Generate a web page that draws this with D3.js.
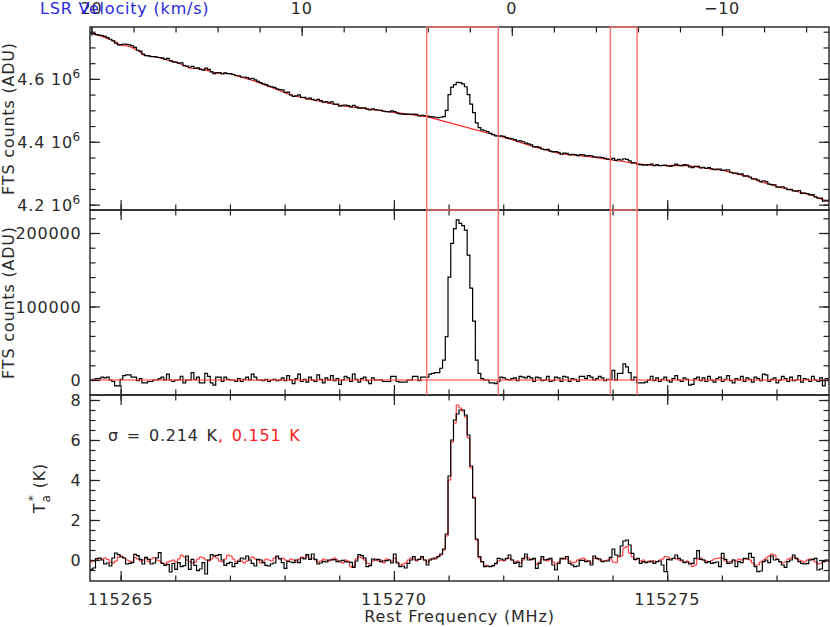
<!DOCTYPE html>
<html><head><meta charset="utf-8">
<script src="https://cdn.jsdelivr.net/npm/d3@7"></script>
<style>
body{margin:0;background:#fff}
text{font-family:"DejaVu Sans",sans-serif;font-size:16px;letter-spacing:0.8px}
</style>
</head><body>
<svg id="c" width="830" height="627"></svg>
<script>
// ---------------- data ----------------
const chanStart = 115264.44;   // MHz, left edge of first channel
const chanWidth = 0.05;        // MHz

// Panel 1: raw FTS counts (units of 1e6 ADU)
const p1Counts = [
4.745,4.744,4.741,4.739,4.738,4.735,4.731,4.726,4.721,4.714,
4.708,4.709,4.711,4.710,4.708,4.705,4.700,4.691,4.688,4.679,
4.674,4.673,4.671,4.671,4.669,4.668,4.667,4.662,4.665,4.658,
4.654,4.653,4.650,4.651,4.642,4.641,4.637,4.640,4.634,4.635,
4.630,4.628,4.634,4.630,4.622,4.617,4.620,4.620,4.616,4.619,
4.617,4.616,4.614,4.610,4.610,4.606,4.606,4.604,4.600,4.602,
4.597,4.592,4.588,4.584,4.582,4.577,4.575,4.573,4.568,4.566,
4.565,4.557,4.558,4.549,4.544,4.546,4.549,4.541,4.541,4.536,
4.539,4.535,4.532,4.535,4.531,4.526,4.528,4.524,4.527,4.520,
4.520,4.513,4.516,4.517,4.515,4.511,4.516,4.511,4.507,4.508,
4.508,4.504,4.501,4.505,4.502,4.501,4.500,4.497,4.496,4.495,
4.498,4.496,4.491,4.489,4.488,4.487,4.488,4.487,4.488,4.487,
4.482,4.484,4.483,4.482,4.480,4.479,4.478,4.477,4.478,4.480,
4.500,4.550,4.574,4.582,4.589,4.588,4.584,4.575,4.550,4.520,
4.493,4.460,4.445,4.438,4.435,4.432,4.427,4.423,4.419,4.418,
4.419,4.417,4.413,4.411,4.409,4.407,4.402,4.403,4.400,4.396,
4.393,4.390,4.384,4.385,4.382,4.377,4.375,4.376,4.370,4.368,
4.369,4.366,4.361,4.364,4.363,4.358,4.360,4.359,4.356,4.359,
4.358,4.355,4.356,4.355,4.352,4.351,4.351,4.350,4.347,4.345,
4.344,4.347,4.341,4.344,4.342,4.346,4.344,4.339,4.333,4.333,
4.328,4.327,4.326,4.326,4.327,4.329,4.324,4.327,4.324,4.325,
4.326,4.323,4.322,4.325,4.329,4.325,4.324,4.327,4.326,4.320,
4.318,4.322,4.322,4.317,4.319,4.315,4.318,4.314,4.311,4.313,
4.313,4.309,4.310,4.311,4.303,4.300,4.300,4.297,4.298,4.291,
4.292,4.288,4.282,4.282,4.278,4.273,4.276,4.273,4.265,4.264,
4.263,4.256,4.256,4.257,4.253,4.248,4.249,4.244,4.243,4.245,
4.236,4.237,4.235,4.231,4.232,4.225,4.221,4.221,4.211,4.214,
4.211];

// Panel 1: baseline fit (red), knots
const baseFreq = [115264.44,115264.62,115264.90,115264.99,115265.17,115265.35,115265.41,115265.67,115265.85,115266.09,
115266.27,115266.45,115266.58,115266.76,115267.00,115267.18,115267.42,115267.68,115267.91,115268.10,
115268.52,115269.07,115269.62,115270.11,115270.60,115271.90,115272.18,115272.54,115273.04,115273.40,
115273.64,115273.95,115274.19,115274.45,115274.74,115274.99,115275.36,115275.60,115276.02,115276.46,
115276.69,115277.01,115277.30,115277.61,115277.79,115277.96];
const baseVal = [4.745,4.737,4.719,4.708,4.703,4.687,4.676,4.669,4.660,4.648,
4.634,4.632,4.627,4.618,4.617,4.607,4.595,4.578,4.563,4.549,
4.533,4.514,4.502,4.491,4.480,4.419,4.406,4.385,4.362,4.356,
4.351,4.343,4.337,4.330,4.325,4.324,4.325,4.318,4.309,4.290,
4.274,4.258,4.245,4.232,4.219,4.210];

// Panel 2: baseline-subtracted counts (units of 1e3 ADU)
const p2Counts = [
0,1,2,2,4,3,4,0,-2,-8,
-8,1,6,7,7,4,4,-1,2,-4,
-4,-2,-2,0,0,2,4,0,8,0,
-2,0,0,5,-4,0,0,10,1,4,
-4,-4,9,5,-4,-7,4,4,-2,4,
1,0,0,-2,2,-2,1,4,0,8,
4,0,0,-1,1,-2,0,1,-1,0,
3,-1,6,0,-5,2,8,-2,1,-3,
4,0,-2,7,1,-4,3,0,6,-1,
2,-6,0,5,3,-2,8,1,-3,2,
4,-1,-5,3,0,0,0,-2,-2,-2,
5,5,-2,-3,-3,-3,0,0,5,5,
-1,4,4,4,8,9,10,10,16,27,
59,140,186,206,218,213,210,204,170,125,
80,27,9,2,0,0,-4,-4,-5,-2,
4,3,1,0,2,3,-1,5,4,3,
5,3,-2,4,3,-1,0,5,-2,-1,
4,3,-2,5,4,-2,2,1,-2,5,
5,2,6,4,0,2,5,3,-1,1,
1,13,0,9,9,22,18,10,0,4,
-4,-4,-4,-3,0,5,-1,3,-2,1,
4,-1,-3,2,6,0,-2,3,1,-7,
-6,2,4,-1,3,-2,5,0,-3,2,
4,-2,1,6,-1,-4,2,0,5,-2,
3,1,-3,4,2,-1,8,7,-2,1,
3,-4,0,5,2,-2,4,-1,0,6,
-3,2,1,-2,5,0,-2,3,-8,2,
1];

// Panel 3: antenna temperature (K), black and red spectra
const p3Black = [
-0.47,-0.4,0.07,0.1,0.0,-0.2,-0.15,-0.3,0.1,0.35,
0.27,0.15,0.1,-0.2,-0.17,-0.13,0.28,0.22,0.03,-0.2,
0.13,0.03,-0.2,-0.15,0.1,0.37,-0.17,-0.27,-0.22,-0.6,
-0.17,-0.47,-0.13,-0.33,-0.28,0.2,-0.47,0.03,-0.27,-0.53,
-0.45,-0.13,-0.7,0.0,0.27,0.2,0.23,0.27,0.0,-0.27,
-0.17,-0.12,-0.33,-0.17,-0.07,0.1,0.05,0.2,0.0,-0.17,
-0.3,0.03,0.0,-0.13,-0.27,-0.3,-0.2,-0.15,0.2,0.07,
-0.13,-0.42,-0.07,-0.1,-0.13,0.0,-0.13,0.1,0.05,0.27,
0.03,0.3,0.03,-0.2,-0.15,-0.07,-0.1,0.0,0.0,0.02,
-0.08,-0.05,-0.02,-0.08,-0.1,-0.12,-0.37,-0.05,0.27,0.22,
0.1,-0.33,-0.28,0.05,0.0,0.03,-0.08,-0.05,-0.03,0.0,
-0.15,0.3,-0.15,-0.33,-0.3,-0.4,-0.17,0.0,0.17,0.0,
0.03,0.17,0.0,-0.25,0.0,0.05,0.1,0.17,0.3,0.55,
1.3,4.2,6.0,7.0,7.3,7.5,7.5,7.25,6.25,4.7,3.1,1.05,0.17,
-0.08,-0.33,-0.3,-0.33,-0.28,-0.17,0.08,0.05,0.0,0.08,
0.25,0.0,-0.17,-0.12,-0.33,0.08,0.3,0.0,0.03,0.08,
-0.42,-0.17,0.17,0.0,0.03,0.08,-0.25,-0.5,-0.17,0.08,
0.05,0.17,-0.17,-0.25,-0.33,-0.3,-0.02,-0.02,-0.08,-0.05,
-0.25,0.2,0.08,0.05,-0.08,-0.05,-0.05,0.13,0.55,0.25,
0.2,0.7,0.95,1.0,0.75,0.33,0.03,0.08,-0.17,-0.08,
-0.13,-0.1,-0.05,-0.17,-0.08,-0.05,-0.25,-0.58,0.03,0.0,
0.08,0.25,0.08,0.0,-0.13,-0.1,-0.2,-0.17,0.08,0.47,
0.03,0.0,-0.13,-0.08,-0.17,-0.13,-0.1,-0.33,0.33,0.03,
-0.17,-0.15,0.0,-0.33,-0.08,-0.13,0.08,0.05,0.33,0.13,
-0.33,-0.58,-0.55,-0.08,0.0,-0.13,0.2,0.0,0.03,-0.08,
-0.25,-0.37,-0.08,0.0,0.25,0.08,-0.08,-0.17,-0.2,-0.18,
0.0,0.03,0.08,-0.5,-0.45,-0.08,0.0,-0.03];

const p3Red = [
-0.1,-0.05,0.0,0.08,0.05,0.1,0.02,-0.1,-0.15,-0.05,
0.15,0.2,0.1,0.0,-0.05,-0.1,0.12,0.05,-0.05,0.0,
0.1,-0.08,0.05,0.12,0.0,-0.05,-0.15,-0.2,-0.1,-0.05,
0.0,-0.1,0.05,0.25,0.15,0.0,-0.08,-0.15,-0.1,0.05,
0.15,0.1,0.0,-0.05,0.05,0.2,0.1,-0.05,-0.1,0.05,
0.25,0.2,0.05,-0.1,0.0,-0.05,-0.15,-0.05,0.1,0.15,
0.05,0.0,-0.15,-0.05,0.05,0.0,-0.05,0.1,0.15,0.05,
0.1,0.0,-0.05,0.05,0.0,-0.1,0.05,0.15,0.1,0.2,
0.05,0.1,0.0,-0.1,-0.05,0.05,0.0,-0.05,0.05,0.1,
0.0,-0.1,-0.15,0.0,-0.05,-0.35,-0.3,0.05,0.15,0.1,
0.0,-0.15,-0.2,-0.05,0.05,-0.05,0.0,-0.15,0.05,0.0,
-0.05,0.1,-0.1,-0.25,-0.2,-0.15,0.0,0.1,0.05,-0.05,
0.05,0.1,0.0,-0.1,0.05,0.1,0.05,0.2,0.25,0.5,
1.2,4.0,5.9,6.85,7.75,7.6,7.45,7.15,6.1,4.6,3.15,1.0,0.1,
-0.1,-0.25,-0.3,-0.33,-0.3,-0.2,-0.05,0.0,-0.05,0.05,
0.1,0.0,-0.1,-0.05,-0.15,0.0,0.15,0.1,0.0,0.05,
-0.2,-0.1,0.05,0.0,-0.05,0.05,-0.1,-0.2,-0.1,0.05,
0.1,0.05,-0.05,-0.15,-0.1,0.0,0.05,0.1,0.0,-0.05,
-0.15,0.1,0.05,0.0,-0.05,-0.05,0.0,0.05,-0.1,-0.13,
0.15,0.2,0.6,0.67,0.35,0.15,0.0,0.05,-0.05,0.0,
-0.1,-0.05,-0.1,-0.05,-0.08,0.0,0.05,0.17,0.15,0.05,
0.08,0.05,0.0,-0.05,-0.1,-0.05,-0.15,-0.33,-0.25,0.05,
0.1,0.0,-0.05,-0.08,-0.02,0.05,0.08,0.1,0.1,-0.05,
-0.1,-0.08,0.0,-0.05,0.05,0.0,0.05,0.08,0.0,-0.15,
-0.25,-0.25,-0.1,0.0,0.1,0.2,0.3,0.25,0.05,-0.1,
-0.15,-0.1,0.05,0.1,0.15,0.05,0.0,-0.05,-0.1,0.0,
0.05,0.0,-0.1,-0.2,-0.15,-0.05,-0.05,-0.05];

// Integration windows (MHz)
const windowLo = [115270.60, 115273.96];
const windowHi = [115271.91, 115274.45];

// Tick values / labels
const freqMajor = [115265, 115270, 115275];
const velMajor = [20, 10, 0, -10];
const velLabels = ["20", "10", "0", "\u221210"];
const p1Major = [4.2, 4.4, 4.6];
const p1Labels = ["4.2", "4.4", "4.6"];
const p2Major = [0, 100, 200];
const p2Labels = ["0", "100000", "200000"];
const p3Major = [0, 2, 4, 6, 8];
const p3Labels = ["0", "2", "4", "6", "8"];
const sigmaBlack = "\u03c3 = 0.214 K";
const sigmaRed = ", 0.151 K";

// ---------------- layout ----------------
const svg = d3.select("#c");
const L = 90, R = 829;
const P = [{t: 27, b: 210}, {t: 210, b: 395}, {t: 395, b: 581}];
const x = d3.scaleLinear().domain([115264.44, 115277.96]).range([L, R]);
const vx = d3.scaleLinear().domain([20.07, -15.09]).range([L, R]);
const y1 = d3.scaleLinear().domain([4.183, 4.765]).range([P[0].b, P[0].t]);
const y2 = d3.scaleLinear().domain([-20.4, 231.3]).range([P[1].b, P[1].t]);
const y3 = d3.scaleLinear().domain([-1.05, 8.25]).range([P[2].b, P[2].t]);

const defs = svg.append("defs");
P.forEach((p, k) => {
  defs.append("clipPath").attr("id", "clip" + k)
    .append("rect").attr("x", L).attr("y", p.t).attr("width", R - L).attr("height", p.b - p.t);
});

function histPath(vals, ys) {
  const pts = vals.map((v, i) => [x(chanStart + i * chanWidth), ys(v)]);
  pts.push([x(chanStart + vals.length * chanWidth), ys(vals[vals.length - 1])]);
  return d3.line().curve(d3.curveStepAfter)(pts);
}

const TK = "#222";
function tickAxis(axis, tr, vals, size) {
  const g = svg.append("g").attr("transform", tr)
    .call(axis.tickValues(vals).tickSize(-size).tickFormat(""));
  g.select(".domain").remove();
  g.selectAll("line").attr("stroke", TK).attr("stroke-width", 1.2);
}

// ---------------- data marks ----------------
// Panel 1
const g1 = svg.append("g").attr("clip-path", "url(#clip0)");
g1.append("path").attr("d", d3.line()(baseFreq.map((f, i) => [x(f), y1(baseVal[i])])))
  .attr("fill", "none").attr("stroke", "#ff1a1a").attr("stroke-width", 1.1);
g1.append("path").attr("d", histPath(p1Counts, y1))
  .attr("fill", "none").attr("stroke", "#000").attr("stroke-width", 1.2);

// Panel 2
const g2 = svg.append("g").attr("clip-path", "url(#clip1)");
g2.append("path").attr("d", histPath(p2Counts, y2))
  .attr("fill", "none").attr("stroke", "#000").attr("stroke-width", 1.2);
g2.append("line").attr("x1", L).attr("x2", R).attr("y1", y2(0)).attr("y2", y2(0))
  .attr("stroke", "#ff3030").attr("stroke-width", 1);

// Panel 3
const g3 = svg.append("g").attr("clip-path", "url(#clip2)");
g3.append("path").attr("d", histPath(p3Red, y3))
  .attr("fill", "none").attr("stroke", "#ff2020").attr("stroke-width", 1);
g3.append("path").attr("d", histPath(p3Black, y3))
  .attr("fill", "none").attr("stroke", "#000").attr("stroke-width", 1.2);

// ---------------- axes / ticks ----------------
const freqMinor = d3.range(115265, 115278, 1);
const velMinor = d3.range(-14, 21, 2);
const p1Minor = d3.range(84, 96).map(k => k * 0.05);
const p2Minor = d3.range(0, 231, 20);
const p3Minor = d3.range(-0.5, 8.01, 0.5);

// top velocity axis (panel 1 top)
tickAxis(d3.axisTop(vx), `translate(0,${P[0].t})`, velMinor, 5.5);
tickAxis(d3.axisTop(vx), `translate(0,${P[0].t})`, velMajor, 9);
// frequency ticks on panel borders
[[P[0].b, "b"], [P[1].t, "t"], [P[1].b, "b"], [P[2].t, "t"], [P[2].b, "b"]].forEach(([yy, s]) => {
  const ax = s === "b" ? d3.axisBottom : d3.axisTop;
  tickAxis(ax(x), `translate(0,${yy})`, freqMinor, 5.5);
  tickAxis(ax(x), `translate(0,${yy})`, freqMajor, 10);
});
// y ticks, left and right
[[y1, p1Minor, p1Major], [y2, p2Minor, p2Major], [y3, p3Minor, p3Major]].forEach(([ys, mn, mj]) => {
  tickAxis(d3.axisLeft(ys), `translate(${L},0)`, mn, 5.5);
  tickAxis(d3.axisLeft(ys), `translate(${L},0)`, mj, 10);
  tickAxis(d3.axisRight(ys), `translate(${R},0)`, mn, 5.5);
  tickAxis(d3.axisRight(ys), `translate(${R},0)`, mj, 10);
});

// frames
P.forEach(p => {
  svg.append("rect").attr("x", L).attr("y", p.t).attr("width", R - L).attr("height", p.b - p.t)
    .attr("fill", "none").attr("stroke", TK).attr("stroke-width", 1.4);
});

// integration windows
const WC = "#ff7070";
windowLo.forEach((lo, k) => {
  const hi = windowHi[k];
  svg.append("rect").attr("x", x(lo)).attr("y", P[0].t).attr("width", x(hi) - x(lo))
    .attr("height", P[0].b - P[0].t).attr("fill", "none").attr("stroke", WC).attr("stroke-width", 1.4);
  [lo, hi].forEach(f => {
    svg.append("line").attr("x1", x(f)).attr("x2", x(f)).attr("y1", P[1].t).attr("y2", P[1].b)
      .attr("stroke", WC).attr("stroke-width", 1.4);
  });
});

// ---------------- labels ----------------
const TXT = "#2a2a2a";
// top velocity labels
velMajor.forEach((v, i) => {
  svg.append("text").attr("x", vx(v)).attr("y", 14).attr("text-anchor", "middle")
    .attr("fill", TXT).text(velLabels[i]);
});
svg.append("text").attr("x", 40).attr("y", 14).attr("fill", "#2a2ae0").text("LSR Velocity (km/s)");

// bottom frequency labels
freqMajor.forEach(f => {
  svg.append("text").attr("x", x(f)).attr("y", 605).attr("text-anchor", "middle")
    .attr("fill", TXT).text(d3.format("d")(f));
});
svg.append("text").attr("x", (L + R) / 2).attr("y", 622).attr("text-anchor", "middle")
  .attr("fill", TXT).text("Rest Frequency (MHz)");

// panel 1 y labels with exponent
p1Major.forEach((v, i) => {
  svg.append("text").attr("x", 73).attr("y", y1(v) + 6).attr("text-anchor", "end").attr("fill", TXT)
    .text(p1Labels[i] + " 10");
  svg.append("text").attr("x", 72.5).attr("y", y1(v) - 1).attr("fill", TXT)
    .style("font-size", "12px").text("6");
});
p2Major.forEach((v, i) => {
  svg.append("text").attr("x", 81.5).attr("y", y2(v) + 6).attr("text-anchor", "end")
    .attr("fill", TXT).text(p2Labels[i]);
});
p3Major.forEach((v, i) => {
  svg.append("text").attr("x", 81.5).attr("y", y3(v) + 6).attr("text-anchor", "end")
    .attr("fill", TXT).text(p3Labels[i]);
});

// y titles
[P[0], P[1]].forEach(p => {
  svg.append("text").attr("transform", `translate(14,${(p.t + p.b) / 2}) rotate(-90)`)
    .attr("text-anchor", "middle").attr("fill", TXT).text("FTS counts (ADU)");
});
const ta = svg.append("text").attr("transform", `translate(45,${(P[2].t + P[2].b) / 2}) rotate(-90)`)
  .attr("text-anchor", "middle").attr("fill", TXT);
ta.append("tspan").text("T");
ta.append("tspan").attr("dy", 5).style("font-size", "12px").text("a");
ta.append("tspan").attr("dy", -13).attr("dx", -7).style("font-size", "13px").text("*");
ta.append("tspan").attr("dy", 8).text(" (K)");

// sigma annotation
const st = svg.append("text").attr("x", 108).attr("y", 441).attr("fill", TXT).style("word-spacing", "2px");
st.append("tspan").text(sigmaBlack);
st.append("tspan").attr("fill", "#ff2020").text(sigmaRed);
</script>
</body></html>
